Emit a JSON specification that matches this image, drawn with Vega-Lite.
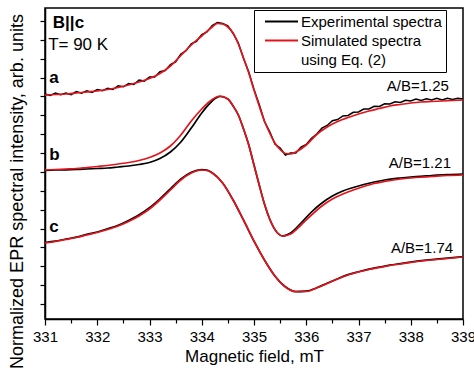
{
  "$schema": "https://vega.github.io/schema/vega-lite/v6.json",
  "width": 418,
  "height": 311,
  "autosize": {"type": "none"},
  "padding": {"left": 45, "top": 8, "right": 11, "bottom": 51},
  "background": "white",
  "config": {
    "view": {"stroke": "black", "strokeWidth": 1.5},
    "font": "Liberation Sans",
    "axis": {"labelColor": "black", "titleColor": "black", "tickColor": "black", "domainColor": "black", "titleFontWeight": "normal", "labelFont": "Liberation Sans", "titleFont": "Liberation Sans", "grid": false, "domainWidth": 1.5, "tickWidth": 1.2}
  },
  "datasets": {
    "noisy": [
      {"B":331.0,"I":210,"curve":"a","type":"Experimental spectra"},{"B":331.1,"I":208.5,"curve":"a","type":"Experimental spectra"},{"B":331.2,"I":211,"curve":"a","type":"Experimental spectra"},{"B":331.3,"I":209.2,"curve":"a","type":"Experimental spectra"},{"B":331.4,"I":211,"curve":"a","type":"Experimental spectra"},{"B":331.5,"I":209.3,"curve":"a","type":"Experimental spectra"},{"B":331.6,"I":212.5,"curve":"a","type":"Experimental spectra"},{"B":331.7,"I":210.7,"curve":"a","type":"Experimental spectra"},{"B":331.8,"I":213.2,"curve":"a","type":"Experimental spectra"},{"B":331.9,"I":211.5,"curve":"a","type":"Experimental spectra"},
      {"B":332.0,"I":214.5,"curve":"a","type":"Experimental spectra"},{"B":332.1,"I":213.2,"curve":"a","type":"Experimental spectra"},{"B":332.2,"I":215.7,"curve":"a","type":"Experimental spectra"},{"B":332.3,"I":214.5,"curve":"a","type":"Experimental spectra"},{"B":332.4,"I":218.3,"curve":"a","type":"Experimental spectra"},{"B":332.5,"I":217.2,"curve":"a","type":"Experimental spectra"},{"B":332.6,"I":220.5,"curve":"a","type":"Experimental spectra"},{"B":332.7,"I":219.5,"curve":"a","type":"Experimental spectra"},{"B":332.8,"I":224,"curve":"a","type":"Experimental spectra"},{"B":332.9,"I":222.9,"curve":"a","type":"Experimental spectra"},
      {"B":333.0,"I":227,"curve":"a","type":"Experimental spectra"},{"B":333.1,"I":227,"curve":"a","type":"Experimental spectra"},{"B":333.2,"I":232.3,"curve":"a","type":"Experimental spectra"},{"B":333.3,"I":233.5,"curve":"a","type":"Experimental spectra"},{"B":333.4,"I":239.5,"curve":"a","type":"Experimental spectra"},{"B":333.5,"I":242,"curve":"a","type":"Experimental spectra"},{"B":333.6,"I":250,"curve":"a","type":"Experimental spectra"},{"B":333.7,"I":253.2,"curve":"a","type":"Experimental spectra"},{"B":333.8,"I":260.2,"curve":"a","type":"Experimental spectra"},{"B":333.9,"I":262.7,"curve":"a","type":"Experimental spectra"},
      {"B":334.0,"I":269.5,"curve":"a","type":"Experimental spectra"},{"B":334.1,"I":272,"curve":"a","type":"Experimental spectra"},{"B":334.2,"I":278.5,"curve":"a","type":"Experimental spectra"},{"B":334.3,"I":281.5,"curve":"a","type":"Experimental spectra"},{"B":334.4,"I":280.5,"curve":"a","type":"Experimental spectra"},{"B":334.5,"I":278.2,"curve":"a","type":"Experimental spectra"},{"B":334.6,"I":270.5,"curve":"a","type":"Experimental spectra"},{"B":334.7,"I":261,"curve":"a","type":"Experimental spectra"},{"B":334.8,"I":245.5,"curve":"a","type":"Experimental spectra"},{"B":334.9,"I":232,"curve":"a","type":"Experimental spectra"},
      {"B":335.0,"I":214.5,"curve":"a","type":"Experimental spectra"},{"B":335.1,"I":199.5,"curve":"a","type":"Experimental spectra"},{"B":335.2,"I":182.5,"curve":"a","type":"Experimental spectra"},{"B":335.3,"I":172.5,"curve":"a","type":"Experimental spectra"},{"B":335.4,"I":160,"curve":"a","type":"Experimental spectra"},{"B":335.5,"I":156,"curve":"a","type":"Experimental spectra"},{"B":335.6,"I":149,"curve":"a","type":"Experimental spectra"},{"B":335.7,"I":151,"curve":"a","type":"Experimental spectra"},{"B":335.8,"I":151,"curve":"a","type":"Experimental spectra"},{"B":335.9,"I":157,"curve":"a","type":"Experimental spectra"},
      {"B":336.0,"I":159.5,"curve":"a","type":"Experimental spectra"},{"B":336.1,"I":165.7,"curve":"a","type":"Experimental spectra"},{"B":336.2,"I":170,"curve":"a","type":"Experimental spectra"},{"B":336.3,"I":175.8,"curve":"a","type":"Experimental spectra"},{"B":336.4,"I":178.5,"curve":"a","type":"Experimental spectra"},{"B":336.5,"I":183.2,"curve":"a","type":"Experimental spectra"},{"B":336.6,"I":184.5,"curve":"a","type":"Experimental spectra"},{"B":336.7,"I":188,"curve":"a","type":"Experimental spectra"},{"B":336.8,"I":188.5,"curve":"a","type":"Experimental spectra"},{"B":336.9,"I":191.7,"curve":"a","type":"Experimental spectra"},
      {"B":337.0,"I":192,"curve":"a","type":"Experimental spectra"},{"B":337.1,"I":195,"curve":"a","type":"Experimental spectra"},{"B":337.2,"I":195,"curve":"a","type":"Experimental spectra"},{"B":337.3,"I":197.7,"curve":"a","type":"Experimental spectra"},{"B":337.4,"I":197.5,"curve":"a","type":"Experimental spectra"},{"B":337.5,"I":200.2,"curve":"a","type":"Experimental spectra"},{"B":337.6,"I":200,"curve":"a","type":"Experimental spectra"},{"B":337.7,"I":202.2,"curve":"a","type":"Experimental spectra"},{"B":337.8,"I":201.5,"curve":"a","type":"Experimental spectra"},{"B":337.9,"I":203.7,"curve":"a","type":"Experimental spectra"},
      {"B":338.0,"I":203,"curve":"a","type":"Experimental spectra"},{"B":338.1,"I":205,"curve":"a","type":"Experimental spectra"},{"B":338.2,"I":203.5,"curve":"a","type":"Experimental spectra"},{"B":338.3,"I":205.2,"curve":"a","type":"Experimental spectra"},{"B":338.4,"I":204,"curve":"a","type":"Experimental spectra"},{"B":338.5,"I":205.7,"curve":"a","type":"Experimental spectra"},{"B":338.6,"I":204,"curve":"a","type":"Experimental spectra"},{"B":338.7,"I":205.7,"curve":"a","type":"Experimental spectra"},{"B":338.8,"I":204.5,"curve":"a","type":"Experimental spectra"},{"B":338.9,"I":205.7,"curve":"a","type":"Experimental spectra"},
      {"B":339.0,"I":205,"curve":"a","type":"Experimental spectra"}
    ],
    "smoothExp": [
      {"B":331.0,"I":133.5,"curve":"b","type":"Experimental spectra"},{"B":331.2,"I":134,"curve":"b","type":"Experimental spectra"},{"B":331.4,"I":134.2,"curve":"b","type":"Experimental spectra"},{"B":331.6,"I":134.5,"curve":"b","type":"Experimental spectra"},{"B":331.8,"I":135,"curve":"b","type":"Experimental spectra"},{"B":332.0,"I":135.5,"curve":"b","type":"Experimental spectra"},{"B":332.2,"I":136,"curve":"b","type":"Experimental spectra"},{"B":332.4,"I":137,"curve":"b","type":"Experimental spectra"},{"B":332.6,"I":138,"curve":"b","type":"Experimental spectra"},{"B":332.8,"I":139.5,"curve":"b","type":"Experimental spectra"},{"B":333.0,"I":141.5,"curve":"b","type":"Experimental spectra"},{"B":333.2,"I":145.5,"curve":"b","type":"Experimental spectra"},{"B":333.4,"I":152,"curve":"b","type":"Experimental spectra"},{"B":333.6,"I":162,"curve":"b","type":"Experimental spectra"},{"B":333.8,"I":176,"curve":"b","type":"Experimental spectra"},{"B":334.0,"I":191,"curve":"b","type":"Experimental spectra"},{"B":334.2,"I":203,"curve":"b","type":"Experimental spectra"},{"B":334.35,"I":207.5,"curve":"b","type":"Experimental spectra"},{"B":334.5,"I":205,"curve":"b","type":"Experimental spectra"},{"B":334.6,"I":198,"curve":"b","type":"Experimental spectra"},{"B":334.7,"I":189,"curve":"b","type":"Experimental spectra"},{"B":334.8,"I":175,"curve":"b","type":"Experimental spectra"},{"B":334.9,"I":159,"curve":"b","type":"Experimental spectra"},{"B":335.0,"I":139,"curve":"b","type":"Experimental spectra"},{"B":335.1,"I":119,"curve":"b","type":"Experimental spectra"},{"B":335.2,"I":100,"curve":"b","type":"Experimental spectra"},{"B":335.3,"I":85,"curve":"b","type":"Experimental spectra"},{"B":335.45,"I":71,"curve":"b","type":"Experimental spectra"},{"B":335.55,"I":68,"curve":"b","type":"Experimental spectra"},{"B":335.7,"I":71,"curve":"b","type":"Experimental spectra"},{"B":335.9,"I":81,"curve":"b","type":"Experimental spectra"},{"B":336.1,"I":92,"curve":"b","type":"Experimental spectra"},{"B":336.3,"I":101,"curve":"b","type":"Experimental spectra"},{"B":336.5,"I":108,"curve":"b","type":"Experimental spectra"},{"B":336.7,"I":113,"curve":"b","type":"Experimental spectra"},{"B":336.9,"I":116.5,"curve":"b","type":"Experimental spectra"},{"B":337.1,"I":119.5,"curve":"b","type":"Experimental spectra"},{"B":337.3,"I":122,"curve":"b","type":"Experimental spectra"},{"B":337.5,"I":124,"curve":"b","type":"Experimental spectra"},{"B":337.8,"I":126,"curve":"b","type":"Experimental spectra"},{"B":338.1,"I":127.5,"curve":"b","type":"Experimental spectra"},{"B":338.4,"I":128.5,"curve":"b","type":"Experimental spectra"},{"B":338.7,"I":129.5,"curve":"b","type":"Experimental spectra"},{"B":339.0,"I":130,"curve":"b","type":"Experimental spectra"},
      {"B":331.0,"I":61.5,"curve":"c","type":"Experimental spectra"},{"B":331.2,"I":62.8,"curve":"c","type":"Experimental spectra"},{"B":331.4,"I":65,"curve":"c","type":"Experimental spectra"},{"B":331.6,"I":66.8,"curve":"c","type":"Experimental spectra"},{"B":331.8,"I":69.6,"curve":"c","type":"Experimental spectra"},{"B":332.0,"I":72,"curve":"c","type":"Experimental spectra"},{"B":332.2,"I":75.3,"curve":"c","type":"Experimental spectra"},{"B":332.4,"I":78.8,"curve":"c","type":"Experimental spectra"},{"B":332.6,"I":83.6,"curve":"c","type":"Experimental spectra"},{"B":332.8,"I":89.2,"curve":"c","type":"Experimental spectra"},{"B":333.0,"I":96.3,"curve":"c","type":"Experimental spectra"},{"B":333.2,"I":105.2,"curve":"c","type":"Experimental spectra"},{"B":333.4,"I":115.2,"curve":"c","type":"Experimental spectra"},{"B":333.6,"I":125,"curve":"c","type":"Experimental spectra"},{"B":333.8,"I":131.8,"curve":"c","type":"Experimental spectra"},{"B":334.0,"I":134.4,"curve":"c","type":"Experimental spectra"},{"B":334.1,"I":133.8,"curve":"c","type":"Experimental spectra"},{"B":334.2,"I":131.2,"curve":"c","type":"Experimental spectra"},{"B":334.4,"I":121,"curve":"c","type":"Experimental spectra"},{"B":334.6,"I":104,"curve":"c","type":"Experimental spectra"},{"B":334.8,"I":83.8,"curve":"c","type":"Experimental spectra"},{"B":335.0,"I":62.8,"curve":"c","type":"Experimental spectra"},{"B":335.2,"I":44,"curve":"c","type":"Experimental spectra"},{"B":335.4,"I":28,"curve":"c","type":"Experimental spectra"},{"B":335.6,"I":17.2,"curve":"c","type":"Experimental spectra"},{"B":335.8,"I":12.3,"curve":"c","type":"Experimental spectra"},{"B":336.0,"I":12.8,"curve":"c","type":"Experimental spectra"},{"B":336.2,"I":16.2,"curve":"c","type":"Experimental spectra"},{"B":336.4,"I":20.8,"curve":"c","type":"Experimental spectra"},{"B":336.6,"I":25.3,"curve":"c","type":"Experimental spectra"},{"B":336.8,"I":29.4,"curve":"c","type":"Experimental spectra"},{"B":337.0,"I":32.3,"curve":"c","type":"Experimental spectra"},{"B":337.2,"I":34.9,"curve":"c","type":"Experimental spectra"},{"B":337.4,"I":36.8,"curve":"c","type":"Experimental spectra"},{"B":337.6,"I":38.9,"curve":"c","type":"Experimental spectra"},{"B":337.8,"I":40.3,"curve":"c","type":"Experimental spectra"},{"B":338.0,"I":41.9,"curve":"c","type":"Experimental spectra"},{"B":338.3,"I":43.8,"curve":"c","type":"Experimental spectra"},{"B":338.6,"I":45.4,"curve":"c","type":"Experimental spectra"},{"B":339.0,"I":47.2,"curve":"c","type":"Experimental spectra"}
    ],
    "sim": [
      {"B":331.0,"I":209,"curve":"a","type":"Simulated spectra"},{"B":331.2,"I":209.5,"curve":"a","type":"Simulated spectra"},{"B":331.4,"I":210,"curve":"a","type":"Simulated spectra"},{"B":331.6,"I":211,"curve":"a","type":"Simulated spectra"},{"B":331.8,"I":212,"curve":"a","type":"Simulated spectra"},{"B":332.0,"I":213,"curve":"a","type":"Simulated spectra"},{"B":332.2,"I":214.5,"curve":"a","type":"Simulated spectra"},{"B":332.4,"I":216.5,"curve":"a","type":"Simulated spectra"},{"B":332.6,"I":219,"curve":"a","type":"Simulated spectra"},{"B":332.8,"I":222,"curve":"a","type":"Simulated spectra"},{"B":333.0,"I":225.5,"curve":"a","type":"Simulated spectra"},{"B":333.2,"I":230.5,"curve":"a","type":"Simulated spectra"},{"B":333.4,"I":238,"curve":"a","type":"Simulated spectra"},{"B":333.6,"I":248.5,"curve":"a","type":"Simulated spectra"},{"B":333.8,"I":259,"curve":"a","type":"Simulated spectra"},{"B":334.0,"I":268,"curve":"a","type":"Simulated spectra"},{"B":334.2,"I":277,"curve":"a","type":"Simulated spectra"},{"B":334.3,"I":280.5,"curve":"a","type":"Simulated spectra"},{"B":334.4,"I":280,"curve":"a","type":"Simulated spectra"},{"B":334.5,"I":277,"curve":"a","type":"Simulated spectra"},{"B":334.6,"I":271,"curve":"a","type":"Simulated spectra"},{"B":334.7,"I":260,"curve":"a","type":"Simulated spectra"},{"B":334.8,"I":246,"curve":"a","type":"Simulated spectra"},{"B":334.9,"I":231,"curve":"a","type":"Simulated spectra"},{"B":335.0,"I":214,"curve":"a","type":"Simulated spectra"},{"B":335.1,"I":198,"curve":"a","type":"Simulated spectra"},{"B":335.2,"I":183,"curve":"a","type":"Simulated spectra"},{"B":335.3,"I":171,"curve":"a","type":"Simulated spectra"},{"B":335.4,"I":161,"curve":"a","type":"Simulated spectra"},{"B":335.5,"I":154.5,"curve":"a","type":"Simulated spectra"},{"B":335.6,"I":150.5,"curve":"a","type":"Simulated spectra"},{"B":335.7,"I":150,"curve":"a","type":"Simulated spectra"},{"B":335.8,"I":152,"curve":"a","type":"Simulated spectra"},{"B":336.0,"I":159,"curve":"a","type":"Simulated spectra"},{"B":336.2,"I":169.5,"curve":"a","type":"Simulated spectra"},{"B":336.4,"I":177,"curve":"a","type":"Simulated spectra"},{"B":336.6,"I":182.5,"curve":"a","type":"Simulated spectra"},{"B":336.8,"I":186.5,"curve":"a","type":"Simulated spectra"},{"B":337.0,"I":190,"curve":"a","type":"Simulated spectra"},{"B":337.2,"I":193,"curve":"a","type":"Simulated spectra"},{"B":337.4,"I":195.5,"curve":"a","type":"Simulated spectra"},{"B":337.6,"I":198,"curve":"a","type":"Simulated spectra"},{"B":337.8,"I":199.5,"curve":"a","type":"Simulated spectra"},{"B":338.0,"I":201,"curve":"a","type":"Simulated spectra"},{"B":338.2,"I":202,"curve":"a","type":"Simulated spectra"},{"B":338.4,"I":202.5,"curve":"a","type":"Simulated spectra"},{"B":338.6,"I":203,"curve":"a","type":"Simulated spectra"},{"B":338.8,"I":203.5,"curve":"a","type":"Simulated spectra"},{"B":339.0,"I":204,"curve":"a","type":"Simulated spectra"},
      {"B":331.0,"I":134,"curve":"b","type":"Simulated spectra"},{"B":331.2,"I":134.5,"curve":"b","type":"Simulated spectra"},{"B":331.4,"I":135,"curve":"b","type":"Simulated spectra"},{"B":331.6,"I":135.5,"curve":"b","type":"Simulated spectra"},{"B":331.8,"I":136.5,"curve":"b","type":"Simulated spectra"},{"B":332.0,"I":137.5,"curve":"b","type":"Simulated spectra"},{"B":332.2,"I":138.5,"curve":"b","type":"Simulated spectra"},{"B":332.4,"I":140,"curve":"b","type":"Simulated spectra"},{"B":332.6,"I":141.5,"curve":"b","type":"Simulated spectra"},{"B":332.8,"I":143.5,"curve":"b","type":"Simulated spectra"},{"B":333.0,"I":146.5,"curve":"b","type":"Simulated spectra"},{"B":333.2,"I":151,"curve":"b","type":"Simulated spectra"},{"B":333.4,"I":158,"curve":"b","type":"Simulated spectra"},{"B":333.6,"I":169,"curve":"b","type":"Simulated spectra"},{"B":333.8,"I":183,"curve":"b","type":"Simulated spectra"},{"B":334.0,"I":195,"curve":"b","type":"Simulated spectra"},{"B":334.2,"I":204.5,"curve":"b","type":"Simulated spectra"},{"B":334.35,"I":208,"curve":"b","type":"Simulated spectra"},{"B":334.5,"I":205,"curve":"b","type":"Simulated spectra"},{"B":334.6,"I":198,"curve":"b","type":"Simulated spectra"},{"B":334.7,"I":189,"curve":"b","type":"Simulated spectra"},{"B":334.8,"I":175,"curve":"b","type":"Simulated spectra"},{"B":334.9,"I":159,"curve":"b","type":"Simulated spectra"},{"B":335.0,"I":139,"curve":"b","type":"Simulated spectra"},{"B":335.1,"I":119,"curve":"b","type":"Simulated spectra"},{"B":335.2,"I":100,"curve":"b","type":"Simulated spectra"},{"B":335.3,"I":85,"curve":"b","type":"Simulated spectra"},{"B":335.45,"I":71,"curve":"b","type":"Simulated spectra"},{"B":335.55,"I":68,"curve":"b","type":"Simulated spectra"},{"B":335.7,"I":70,"curve":"b","type":"Simulated spectra"},{"B":335.9,"I":79,"curve":"b","type":"Simulated spectra"},{"B":336.1,"I":89,"curve":"b","type":"Simulated spectra"},{"B":336.3,"I":98,"curve":"b","type":"Simulated spectra"},{"B":336.5,"I":105,"curve":"b","type":"Simulated spectra"},{"B":336.7,"I":110,"curve":"b","type":"Simulated spectra"},{"B":336.9,"I":114,"curve":"b","type":"Simulated spectra"},{"B":337.1,"I":117.5,"curve":"b","type":"Simulated spectra"},{"B":337.3,"I":120.5,"curve":"b","type":"Simulated spectra"},{"B":337.5,"I":122.5,"curve":"b","type":"Simulated spectra"},{"B":337.8,"I":125,"curve":"b","type":"Simulated spectra"},{"B":338.1,"I":126.5,"curve":"b","type":"Simulated spectra"},{"B":338.4,"I":127.5,"curve":"b","type":"Simulated spectra"},{"B":338.7,"I":128.5,"curve":"b","type":"Simulated spectra"},{"B":339.0,"I":129,"curve":"b","type":"Simulated spectra"},
      {"B":331.0,"I":61,"curve":"c","type":"Simulated spectra"},{"B":331.2,"I":62.5,"curve":"c","type":"Simulated spectra"},{"B":331.4,"I":64.5,"curve":"c","type":"Simulated spectra"},{"B":331.6,"I":66.5,"curve":"c","type":"Simulated spectra"},{"B":331.8,"I":69,"curve":"c","type":"Simulated spectra"},{"B":332.0,"I":71.5,"curve":"c","type":"Simulated spectra"},{"B":332.2,"I":74.5,"curve":"c","type":"Simulated spectra"},{"B":332.4,"I":78,"curve":"c","type":"Simulated spectra"},{"B":332.6,"I":82.5,"curve":"c","type":"Simulated spectra"},{"B":332.8,"I":88,"curve":"c","type":"Simulated spectra"},{"B":333.0,"I":95,"curve":"c","type":"Simulated spectra"},{"B":333.2,"I":104,"curve":"c","type":"Simulated spectra"},{"B":333.4,"I":114,"curve":"c","type":"Simulated spectra"},{"B":333.6,"I":124,"curve":"c","type":"Simulated spectra"},{"B":333.8,"I":131,"curve":"c","type":"Simulated spectra"},{"B":334.0,"I":134,"curve":"c","type":"Simulated spectra"},{"B":334.1,"I":133.5,"curve":"c","type":"Simulated spectra"},{"B":334.2,"I":131,"curve":"c","type":"Simulated spectra"},{"B":334.4,"I":121,"curve":"c","type":"Simulated spectra"},{"B":334.6,"I":104,"curve":"c","type":"Simulated spectra"},{"B":334.8,"I":84,"curve":"c","type":"Simulated spectra"},{"B":335.0,"I":63,"curve":"c","type":"Simulated spectra"},{"B":335.2,"I":44,"curve":"c","type":"Simulated spectra"},{"B":335.4,"I":28,"curve":"c","type":"Simulated spectra"},{"B":335.6,"I":17,"curve":"c","type":"Simulated spectra"},{"B":335.8,"I":12.5,"curve":"c","type":"Simulated spectra"},{"B":336.0,"I":12.5,"curve":"c","type":"Simulated spectra"},{"B":336.2,"I":16,"curve":"c","type":"Simulated spectra"},{"B":336.4,"I":20.5,"curve":"c","type":"Simulated spectra"},{"B":336.6,"I":25,"curve":"c","type":"Simulated spectra"},{"B":336.8,"I":29,"curve":"c","type":"Simulated spectra"},{"B":337.0,"I":32,"curve":"c","type":"Simulated spectra"},{"B":337.2,"I":34.5,"curve":"c","type":"Simulated spectra"},{"B":337.4,"I":36.5,"curve":"c","type":"Simulated spectra"},{"B":337.6,"I":38.5,"curve":"c","type":"Simulated spectra"},{"B":337.8,"I":40,"curve":"c","type":"Simulated spectra"},{"B":338.0,"I":41.5,"curve":"c","type":"Simulated spectra"},{"B":338.3,"I":43.5,"curve":"c","type":"Simulated spectra"},{"B":338.6,"I":45,"curve":"c","type":"Simulated spectra"},{"B":339.0,"I":47,"curve":"c","type":"Simulated spectra"}
    ],
    "boldText": [
      {"B":331.15,"I":281,"label":"B||c"},
      {"B":331.08,"I":226,"label":"a"},
      {"B":331.08,"I":149,"label":"b"},
      {"B":331.08,"I":77,"label":"c"}
    ],
    "plainText": [
      {"B":331.06,"I":259,"label":"T= 90 K"}
    ],
    "ratioText": [
      {"B":338.73,"I":218,"label":"A/B=1.25"},
      {"B":338.77,"I":141,"label":"A/B=1.21"},
      {"B":338.81,"I":56,"label":"A/B=1.74"}
    ]
  },
  "encoding": {
    "x": {
      "field": "B", "type": "quantitative",
      "scale": {"domain": [331, 339], "nice": false, "zero": false},
      "axis": {
        "title": "Magnetic field, mT", "titleFontSize": 17, "labelFontSize": 15,
        "values": [331,331.5,332,332.5,333,333.5,334,334.5,335,335.5,336,336.5,337,337.5,338,338.5,339],
        "labelExpr": "datum.value % 1 === 0 ? format(datum.value, 'd') : ''",
        "tickSize": {"condition": {"test": "datum.value % 1 === 0", "value": 6}, "value": 4},
        "labelPadding": 4, "labelFlush": false, "labelOverlap": false, "titlePadding": 4
      }
    },
    "y": {
      "field": "I", "type": "quantitative",
      "scale": {"domain": [-15, 296], "nice": false, "zero": false},
      "axis": {
        "title": "Normalized EPR spectral intensity, arb. units", "titleFontSize": 18,
        "labels": false, "tickSize": 5,
        "values": [0,18.87,37.74,56.61,75.48,94.35,113.22,132.09,150.96,169.83,188.7,207.57,226.44,245.31,264.18,283.05],
        "titleX": -23, "titleY": 183, "titleAnchor": "middle", "titleBaseline": "alphabetic"
      }
    }
  },
  "layer": [
    {
      "data": {"name": "noisy"},
      "mark": {"type": "line", "strokeWidth": 1.5, "interpolate": "linear"},
      "encoding": {
        "detail": {"field": "curve"},
        "color": {"field": "type", "type": "nominal",
          "scale": {"domain": ["Experimental spectra", "Simulated spectra", "using Eq. (2)"], "range": ["#000000", "#e3141c", "rgba(0,0,0,0)"]},
          "legend": {
            "orient": "none", "legendX": 209, "legendY": 2, "title": null,
            "symbolType": "M-3,0H3", "symbolSize": 121, "symbolStrokeWidth": 1.8,
            "symbolOffset": 16, "labelOffset": 12,
            "labelFontSize": 15, "labelFont": "Liberation Sans", "labelColor": "black",
            "strokeColor": "black", "fillColor": "white", "padding": 4,
            "rowPadding": 3, "labelLimit": 300
          }
        }
      }
    },
    {
      "data": {"name": "smoothExp"},
      "mark": {"type": "line", "strokeWidth": 1.7, "interpolate": "monotone"},
      "encoding": {
        "detail": {"field": "curve"},
        "color": {"field": "type", "type": "nominal"}
      }
    },
    {
      "data": {"name": "sim"},
      "mark": {"type": "line", "strokeWidth": 1.7, "interpolate": "monotone"},
      "encoding": {
        "detail": {"field": "curve"},
        "color": {"field": "type", "type": "nominal"}
      }
    },
    {
      "data": {"name": "boldText"},
      "mark": {"type": "text", "align": "left", "baseline": "middle", "fontSize": 17, "fontWeight": "bold", "font": "Liberation Sans", "color": "black"},
      "encoding": {"text": {"field": "label"}}
    },
    {
      "data": {"name": "plainText"},
      "mark": {"type": "text", "align": "left", "baseline": "middle", "fontSize": 17, "font": "Liberation Sans", "color": "black"},
      "encoding": {"text": {"field": "label"}}
    },
    {
      "data": {"name": "ratioText"},
      "mark": {"type": "text", "align": "right", "baseline": "middle", "fontSize": 15, "font": "Liberation Sans", "color": "black"},
      "encoding": {"text": {"field": "label"}}
    }
  ]
}
